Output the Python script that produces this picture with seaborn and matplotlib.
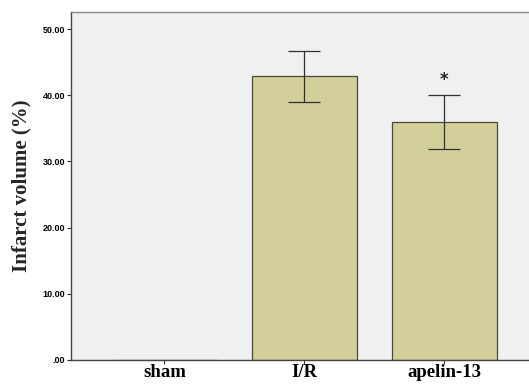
import numpy as np
import pandas as pd
import matplotlib
matplotlib.use("Agg")
import matplotlib.pyplot as plt
import seaborn as sns

# data
groups = ["sham", "I/R", "apelin-13"]
means = [0.0, 42.9, 36.0]
err_lo = [0.0, 3.9, 4.1]
err_hi = [0.0, 3.8, 4.0]
yticks = [0, 10, 20, 30, 40, 50]
ytick_labels = [".00", "10.00", "20.00", "30.00", "40.00", "50.00"]

df = pd.DataFrame({"group": groups, "value": means})

sns.set_style("white")
fig = plt.figure(figsize=(5.29, 3.86), dpi=100)
ax = fig.add_axes([0.134, 0.0674, 0.883, 0.9016])
ax.set_facecolor("#f0f0f0")

sns.barplot(data=df, x="group", y="value", color="#d3cf9a", width=0.75,
            edgecolor="#4a4a3a", linewidth=0.9, saturation=1, ax=ax)

x = np.arange(len(groups))
ax.errorbar(x[1:], means[1:], yerr=[err_lo[1:], err_hi[1:]], fmt="none",
            ecolor="#303030", elinewidth=0.9, capsize=11.5, capthick=0.9)
ax.text(2, 41.0, "*", ha="center", va="bottom", fontsize=12,
        fontweight="bold", color="#222222")

ax.set_xlim(-0.668, 2.668)
ax.set_ylim(0, 52.6)
ax.set_yticks(yticks)
ax.set_yticklabels(ytick_labels, fontsize=6.5, fontweight="bold",
                   family="Liberation Sans")
ax.set_xticks(x)
ax.set_xticklabels(groups, fontsize=13.5, fontweight="bold",
                   family="Liberation Serif")
ax.tick_params(axis="both", direction="out", length=3, width=0.8,
               colors="#333333", pad=1, left=True, bottom=True)
ax.tick_params(axis="x", pad=0, labelcolor="black")
ax.tick_params(axis="y", labelcolor="black")
ax.set_xlabel("")
ax.set_ylabel("Infarct volume (%)", fontsize=15, fontweight="bold",
              family="Liberation Serif", labelpad=8)
for s in ["left", "bottom"]:
    ax.spines[s].set_color("#444444")
    ax.spines[s].set_linewidth(1.0)
for s in ["top", "right"]:
    ax.spines[s].set_color("#888888")
    ax.spines[s].set_linewidth(1.0)

fig.savefig("out.png", dpi=100, facecolor="white")
